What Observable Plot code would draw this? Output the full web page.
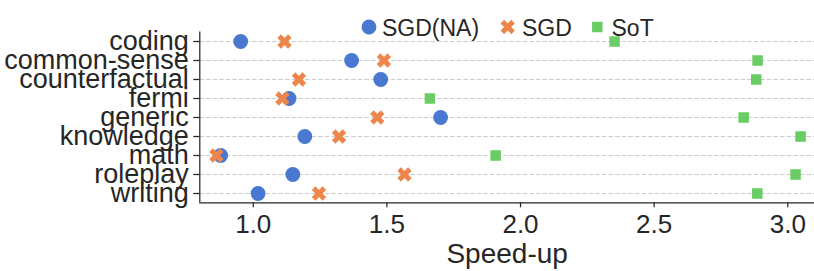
<!DOCTYPE html>
<html><head><meta charset="utf-8">
<script src="https://cdn.jsdelivr.net/npm/d3@7"></script>
<script src="https://cdn.jsdelivr.net/npm/@observablehq/plot@0.6"></script>
<style>
body{margin:0;background:#fff;}
#wrap{position:relative;width:814px;height:271px;font-family:"Liberation Sans",Arial,sans-serif;}
#legend{position:absolute;left:0;top:0;pointer-events:none;overflow:visible;}
</style></head><body><div id="wrap"></div>
<script>
const categories = ["coding","common-sense","counterfactual","fermi","generic","knowledge","math","roleplay","writing"];
const series = ["SGD(NA)","SGD","SoT"];
const sgdNA = [0.953,1.368,1.477,1.134,1.701,1.193,0.878,1.148,1.018];
const sgd   = [1.117,1.489,1.171,1.109,1.464,1.321,0.862,1.566,1.246];
const sot   = [2.352,2.887,2.882,1.661,2.835,3.048,1.907,3.029,2.886];
const xTicks = [1.0,1.5,2.0,2.5,3.0];
const xDomain = [0.8, 3.1];
const colors = ["#4878d0","#ee854a","#6acc64"];
const ink = "#262626";

const xFilled = {draw(ctx, size){
  const s = 2*Math.sqrt(size/Math.PI);
  const pts=[[-0.25,-0.5],[0,-0.25],[0.25,-0.5],[0.5,-0.25],[0.25,0],[0.5,0.25],[0.25,0.5],[0,0.25],[-0.25,0.5],[-0.5,0.25],[-0.25,0],[-0.5,-0.25]];
  ctx.moveTo(pts[0][0]*s, pts[0][1]*s);
  for(let i=1;i<pts.length;i++) ctx.lineTo(pts[i][0]*s, pts[i][1]*s);
  ctx.closePath();
}};
const symbols = [d3.symbolCircle, xFilled, d3.symbolSquare];
const radii = [7.4, 7.15, 5.93];

const values = [sgdNA, sgd, sot];
const rows = series.map((s,i)=>categories.map((c,j)=>({category:c, series:s, value:values[i][j]})));

const plot = Plot.plot({
  width:814, height:271,
  marginLeft:199.3, marginRight:0, marginTop:31.5, marginBottom:68.7,
  style:{fontFamily:'"Liberation Sans",Arial,sans-serif', fontSize:"27px", color:ink, background:"white", overflow:"visible"},
  x:{domain:xDomain, ticks:xTicks, tickFormat:d3.format(".1f")},
  y:{type:"point", domain:categories, padding:0.41},
  marks:[
    Plot.gridY({stroke:"#cccccc", strokeOpacity:1, strokeDasharray:"4.6,2", strokeWidth:1}),
    Plot.axisY({tickSize:6, tickPadding:5, fontSize:27, strokeWidth:1.25, label:null}),
    Plot.axisX(xTicks, {tickSize:5, tickPadding:6.5, fontSize:26, strokeWidth:1.25, label:null, tickFormat:d3.format(".1f")}),
    Plot.ruleX([xDomain[0]], {stroke:ink, strokeWidth:1.25}),
    Plot.frame({anchor:"bottom", stroke:ink, strokeWidth:1.25}),
    ...rows.map((r,i)=>Plot.dot(r, {x:"value", y:"category", r:radii[i], fill:colors[i], symbol:symbols[i]})),
    Plot.text(["Speed-up"], {text:d=>d, frameAnchor:"bottom", lineAnchor:"bottom", dy:60, fontSize:28, fill:ink})
  ]
});
const wrap = document.getElementById("wrap");
wrap.appendChild(plot);

// legend overlay
const legendX = [369, 507.7, 597.3];
const legendTextX = [382, 522, 611.5];
const svg = d3.select(wrap).append("svg").attr("id","legend").attr("width",814).attr("height",271);
series.forEach((s,i)=>{
  svg.append("path").attr("transform",`translate(${legendX[i]},27)`)
    .attr("d", d3.symbol().type(symbols[i]).size(Math.PI*radii[i]*radii[i])()).attr("fill", colors[i]);
  svg.append("text").attr("x",legendTextX[i]).attr("y",35.7).attr("fill",ink)
    .attr("font-size",23).attr("font-family",'"Liberation Sans",Arial,sans-serif').text(s);
});
</script></body></html>
